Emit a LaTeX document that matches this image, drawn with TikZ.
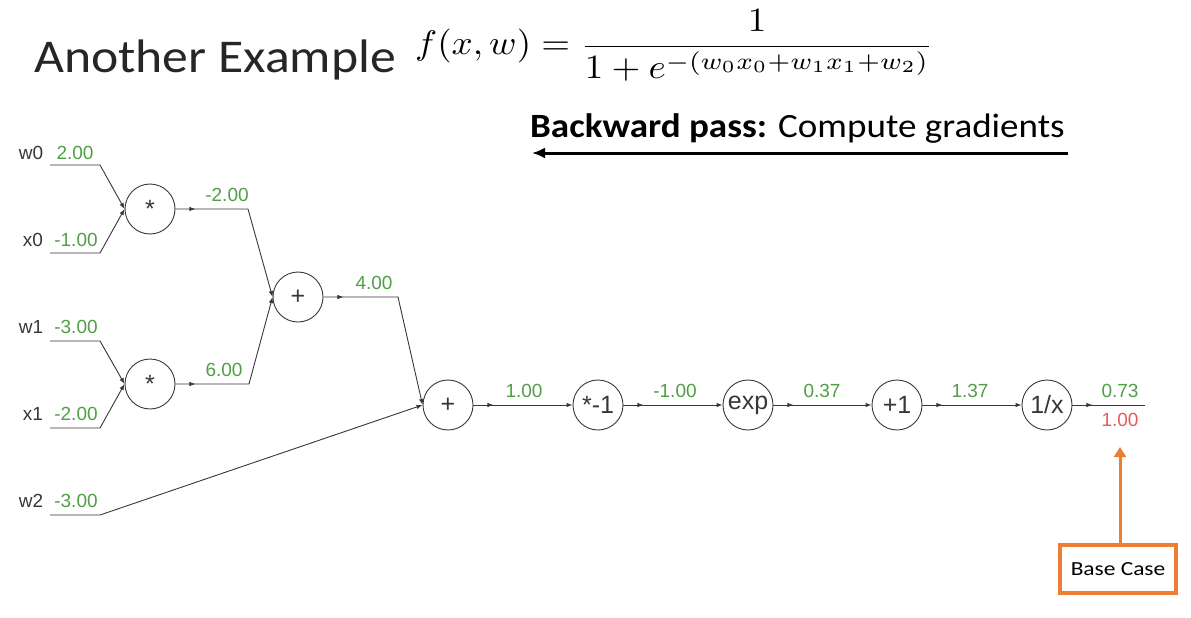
\documentclass[tikz,border=0pt]{standalone}
\usepackage{fontspec}
\setmainfont{Liberation Sans}
\newfontfamily\calibri{Carlito}
\usetikzlibrary{arrows.meta,decorations.markings}
\definecolor{lgreen}{RGB}{80,158,70}
\definecolor{lred}{RGB}{230,90,90}
\definecolor{lgray}{RGB}{55,55,55}
\definecolor{orng}{RGB}{237,125,49}
\tikzset{
  op/.style={circle,draw=lgray,line width=0.9pt,minimum size=50pt,inner sep=0pt,font=\fontsize{25}{29}\selectfont,text=lgray},
  val/.style={text=lgreen,font=\fontsize{19}{22}\selectfont,inner sep=0pt},
  grad/.style={text=lred,font=\fontsize{19}{22}\selectfont,inner sep=0pt},
  var/.style={text=lgray,font=\fontsize{19}{22}\selectfont,inner sep=0pt},
  edge/.style={draw=lgray,line width=0.9pt},
  tipend/.style={-{Latex[length=6pt,width=4.5pt]}},
  midtip/.style={postaction={decorate},decoration={markings,mark=at position 20pt with {\arrow{Latex[length=6pt,width=4.5pt]}}}},
}
\begin{document}
\begin{tikzpicture}[x=1pt,y=-1pt]
\useasboundingbox (0,0) rectangle (1191,618);
% title and formula
\node[anchor=base west,inner sep=0pt,font=\calibri\fontsize{47}{52}\selectfont,text=black!85] (title) at (34,73) {\scalebox{1.10}[1]{Another Example}};
\node[anchor=base west,inner sep=0pt,font=\normalsize] (formula) at (415,55) {\scalebox{3.7}[3.4]{$\displaystyle f(x,w)=\frac{1}{1+e^{-(w_0x_0+w_1x_1+w_2)}}$}};
\node[anchor=base west,inner sep=0pt,font=\calibri\fontsize{34}{40}\selectfont] (bp) at (530,137) {\scalebox{1.09}[1]{\textbf{Backward pass:} Compute gradients}};
\coordinate (bpR) at (1068,153);
\coordinate (bpL) at (532,153);
\draw[line width=3pt,-{Latex[length=13pt,width=11pt]}] (bpR) -- (bpL);
% operator nodes
\node[op] (m1) at (150,209) {*};
\node[op] (m2) at (150,384) {*};
\node[op] (p1) at (298,297) {+};
\node[op] (p2) at (448,405) {+};
\node[op] (n1) at (598,405) {*-1};
\node[op] (ex) at (748,405) {exp};
\node[op] (a1) at (897,405) {+1};
\node[op] (inv) at (1047,405) {1/x};
% input coordinates
\coordinate (w0a) at (50,165); \coordinate (w0b) at (100,165);
\coordinate (x0a) at (50,253); \coordinate (x0b) at (100,253);
\coordinate (w1a) at (50,341); \coordinate (w1b) at (100,341);
\coordinate (x1a) at (50,428); \coordinate (x1b) at (100,428);
\coordinate (w2a) at (50,515); \coordinate (w2b) at (100,515);
\coordinate (e1) at (248,209);
\coordinate (e2) at (249,384);
\coordinate (e3) at (398,297);
\coordinate (out) at (1145,405);
% input labels
\node[var] (lw0) at (31,153) {w0}; \node[val] (vw0) at (75,153) {2.00};
\node[var] (lx0) at (33,240) {x0}; \node[val] (vx0) at (76,240) {-1.00};
\node[var] (lw1) at (31,327) {w1}; \node[val] (vw1) at (76,327) {-3.00};
\node[var] (lx1) at (33,414) {x1}; \node[val] (vx1) at (76,414) {-2.00};
\node[var] (lw2) at (31,501) {w2}; \node[val] (vw2) at (76,501) {-3.00};
% edge values
\node[val] (v1) at (227,195) {-2.00};
\node[val] (v2) at (224,370) {6.00};
\node[val] (v3) at (374,283) {4.00};
\node[val] (v4) at (524,391) {1.00};
\node[val] (v5) at (675,391) {-1.00};
\node[val] (v6) at (822,391) {0.37};
\node[val] (v7) at (970,391) {1.37};
\node[val] (v8) at (1120,391) {0.73};
\node[grad] (g8) at (1120,420) {1.00};
% edges
\draw[edge,tipend] (w0a) -- (w0b) -- (m1.west);
\draw[edge,tipend] (x0a) -- (x0b) -- (m1.west);
\draw[edge,tipend] (w1a) -- (w1b) -- (m2.west);
\draw[edge,tipend] (x1a) -- (x1b) -- (m2.west);
\draw[edge,tipend] (w2a) -- (w2b) -- (p2.west);
\draw[edge,tipend,midtip] (m1.east) -- (e1) -- (p1.west);
\draw[edge,tipend,midtip] (m2.east) -- (e2) -- (p1.west);
\draw[edge,tipend,midtip] (p1.east) -- (e3) -- (p2.west);
\draw[edge,tipend,midtip] (p2.east) -- (n1.west);
\draw[edge,tipend,midtip] (n1.east) -- (ex.west);
\draw[edge,tipend,midtip] (ex.east) -- (a1.west);
\draw[edge,tipend,midtip] (a1.east) -- (inv.west);
\draw[edge,midtip] (inv.east) -- (out);
% base case
\node[draw=orng,line width=3.5pt,minimum width=116pt,minimum height=48pt,inner sep=0pt,font=\calibri\fontsize{20}{24}\selectfont] (bc) at (1118,569) {\scalebox{1.17}[1]{Base Case}};
\coordinate (bcTip) at (1120,447);
\draw[orng,line width=3pt,-{Triangle[length=10pt,width=12pt]}] (bc.north -| bcTip) -- (bcTip);
\end{tikzpicture}
\end{document}
